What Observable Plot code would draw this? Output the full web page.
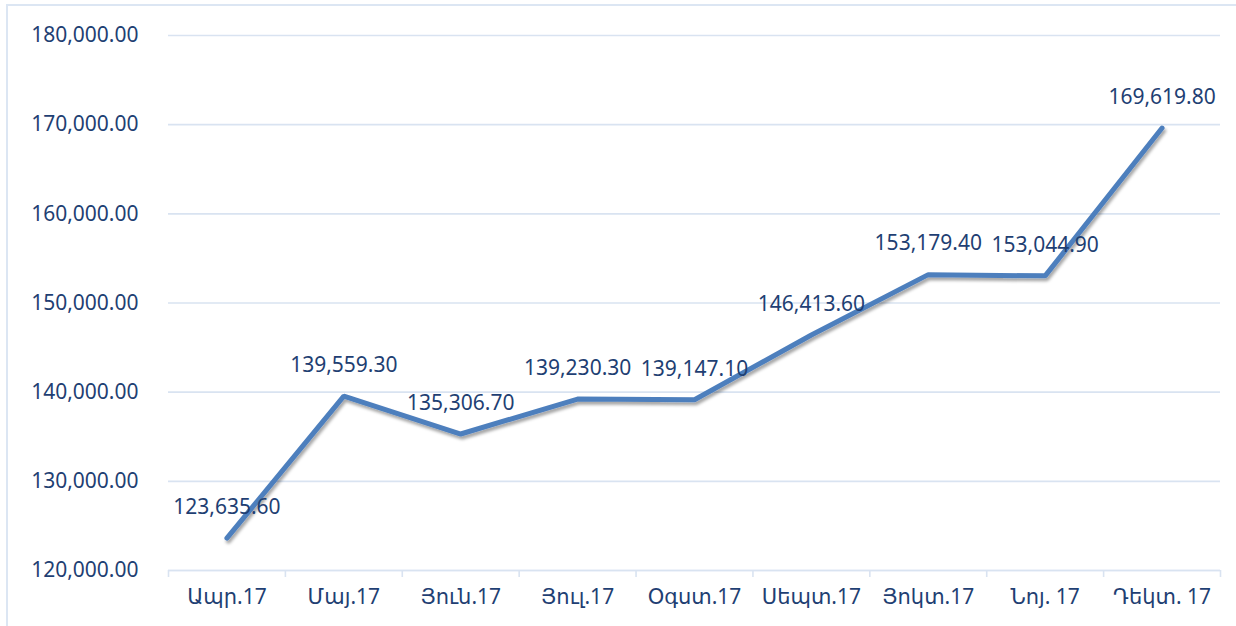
<!DOCTYPE html>
<html>
<head>
<meta charset="utf-8">
<script src="https://cdn.jsdelivr.net/npm/d3@7"></script>
<script src="https://cdn.jsdelivr.net/npm/@observablehq/plot@0.6"></script>
<style>
  html, body { margin: 0; padding: 0; background: #fff; overflow: hidden; }
  #wrap { position: relative; width: 1236px; height: 626px; overflow: hidden; }
  #frame { position: absolute; left: 6px; top: 4px; width: 1300px; height: 700px; border: 2px solid #DCE6F3; box-sizing: border-box; pointer-events: none; }
  #chart { position: absolute; left: 0; top: 0; }
</style>
</head>
<body>
<div id="wrap"><div id="frame"></div><div id="chart"></div></div>
<script>
const categories = ["Ապր.17", "Մայ.17", "Յուն.17", "Յուլ.17", "Օգստ.17", "Սեպտ.17", "Յոկտ.17", "Նոյ. 17", "Դեկտ. 17"];
const values = [123635.6, 139559.3, 135306.7, 139230.3, 139147.1, 146413.6, 153179.4, 153044.9, 169619.8];
const yTicks = [120000, 130000, 140000, 150000, 160000, 170000, 180000];

const data = categories.map((c, i) => ({i, c, v: values[i]}));
const idx = categories.map((_, i) => i);
const edges = categories.map((_, i) => i - 0.5).concat([categories.length - 0.5]);

const textColor = "#1F3F73";
const gridColor = "#D9E3F1";
const lineColor = "#4E7FBD";
const fmt = d3.format(",.2f");

const chart = Plot.plot({
  width: 1236,
  height: 626,
  marginLeft: 168,
  marginRight: 16,
  marginTop: 35,
  marginBottom: 56,
  style: {fontFamily: "'Noto Sans', 'DejaVu Sans', sans-serif", fontSize: "21px", color: textColor, background: "transparent"},
  x: {domain: [-0.5, categories.length - 0.5]},
  y: {domain: [120000, 180000]},
  marks: [
    Plot.gridY(yTicks, {stroke: gridColor, strokeOpacity: 1, strokeWidth: 1.6}),
    Plot.ruleY([120000], {stroke: gridColor, strokeWidth: 1.6}),
    Plot.axisX(edges, {tickSize: 7, tickFormat: () => "", stroke: gridColor, strokeWidth: 1.6, label: null}),
    Plot.axisX(idx, {tickSize: 0, tickPadding: 19, tickFormat: i => categories[i], fill: textColor, fontSize: 21, label: null}),
    Plot.axisY(yTicks, {tickSize: 0, tickPadding: 30, tickFormat: fmt, fill: textColor, fontSize: 21, label: null}),
    Plot.line(data, {x: "i", y: "v", stroke: lineColor, strokeWidth: 5, strokeLinejoin: "miter", strokeLinecap: "round"}),
    Plot.text(data, {x: "i", y: "v", text: d => fmt(d.v), dy: -31, fill: textColor, fontSize: 21})
  ]
});

// subtle drop shadow under the line, like the original
const ns = "http://www.w3.org/2000/svg";
const defs = document.createElementNS(ns, "defs");
defs.innerHTML = '<filter id="sh" x="-10%" y="-10%" width="130%" height="130%"><feDropShadow dx="1.5" dy="3" stdDeviation="1.8" flood-color="#000" flood-opacity="0.35"/></filter>';
chart.insertBefore(defs, chart.firstChild);
const lineG = chart.querySelector('g[aria-label="line"]');
if (lineG) lineG.setAttribute("filter", "url(#sh)");

document.getElementById("chart").appendChild(chart);
</script>
</body>
</html>
